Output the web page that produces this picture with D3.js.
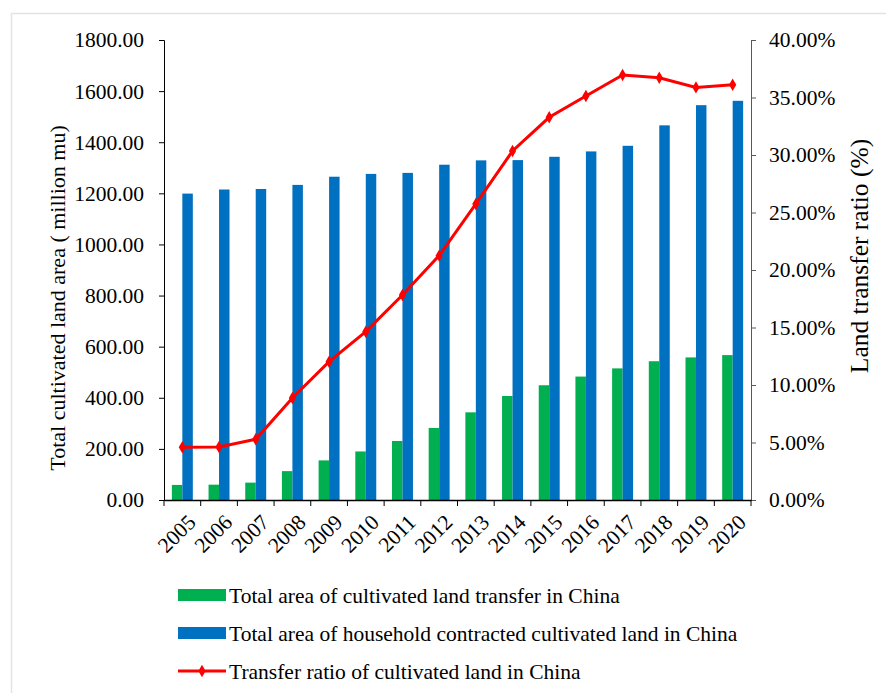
<!DOCTYPE html>
<html>
<head>
<meta charset="utf-8">
<script src="https://cdn.jsdelivr.net/npm/d3@7"></script>
<style>
  body { margin: 0; background: #fff; }
  text { font-family: "Liberation Serif", "Times New Roman", serif; fill: #000; }
</style>
</head>
<body>
<div id="chart"></div>
<script>
// data
let years = ["2005", "2006", "2007", "2008", "2009", "2010", "2011", "2012",
   "2013", "2014", "2015", "2016", "2017", "2018", "2019", "2020"];
let transferArea = [59, 60, 68, 113, 155, 190, 231, 282, 343, 407, 449, 483, 515, 543, 558, 567];
let contractArea = [1199, 1215, 1217, 1233, 1265, 1276, 1280, 1312, 1329, 1330, 1343, 1364, 1386, 1466, 1545, 1562];
let transferRatio = [4.58, 4.61, 5.28, 8.87, 12.03, 14.64, 17.83, 21.25, 25.74, 30.35, 33.28, 35.13, 36.96, 36.72, 35.88, 36.11];
let leftTicks = [0, 200, 400, 600, 800, 1000, 1200, 1400, 1600, 1800];
let rightTicks = [0, 5, 10, 15, 20, 25, 30, 35, 40];

let seriesNames = [
   "Total area of cultivated land transfer in China",
   "Total area of household contracted cultivated land in China",
   "Transfer ratio of cultivated land in China"
];
let colors = {green: "#00B050", blue: "#0070C0", red: "#FF0000"};

let W = 886, H = 693;
let margin = {top: 40, right: 135, bottom: 193, left: 164},
   width = W - margin.left - margin.right,
   height = H - margin.top - margin.bottom;
let fs = "21.5px";

let svg = d3.select("#chart")
   .append("svg")
   .attr("width", W)
   .attr("height", H);

// light frame around the chart
svg.append("rect")
   .attr("x", 11.5).attr("y", 13.5)
   .attr("width", W).attr("height", H)
   .attr("fill", "none")
   .attr("stroke", "#e3e3e3")
   .attr("stroke-width", 1.5);

let g = svg.append("g")
   .attr("transform", "translate(" + margin.left + "," + margin.top + ")");

let x = d3.scaleBand().domain(years).range([0, width]);
let xSub = d3.scaleBand().domain(["transfer", "contract"])
   .range([0, x.bandwidth()]).paddingOuter(0.75);
let yL = d3.scaleLinear().domain([0, 1800]).range([height, 0]);
let yR = d3.scaleLinear().domain([0, 40]).range([height, 0]);

// bars
g.selectAll(".bar-t")
   .data(years)
   .enter().append("rect")
   .attr("x", d => x(d) + xSub("transfer"))
   .attr("y", (d, i) => yL(transferArea[i]))
   .attr("width", xSub.bandwidth())
   .attr("height", (d, i) => height - yL(transferArea[i]))
   .attr("fill", colors.green);

g.selectAll(".bar-c")
   .data(years)
   .enter().append("rect")
   .attr("x", d => x(d) + xSub("contract"))
   .attr("y", (d, i) => yL(contractArea[i]))
   .attr("width", xSub.bandwidth())
   .attr("height", (d, i) => height - yL(contractArea[i]))
   .attr("fill", colors.blue);

// axes
let leftAxis = g.append("g")
   .call(d3.axisLeft(yL).tickValues(leftTicks).tickSize(5).tickPadding(15)
      .tickFormat(d3.format(".2f")));
leftAxis.selectAll("text").style("font-size", fs);

let rightAxis = g.append("g")
   .attr("transform", "translate(" + width + ",0)")
   .call(d3.axisRight(yR).tickValues(rightTicks).tickSize(5).tickPadding(13)
      .tickFormat(d => d.toFixed(2) + "%"));
rightAxis.selectAll("text").style("font-size", fs);
rightAxis.selectAll("line, path").attr("stroke", "#595959");

let bottomAxis = g.append("g")
   .attr("transform", "translate(0," + height + ")")
   .call(d3.axisBottom(x).tickSize(0).tickFormat(""));
bottomAxis.select(".domain").attr("stroke-width", 1.5);

// category boundary ticks
g.selectAll(".xtick")
   .data(years.concat(["end"]))
   .enter().append("line")
   .attr("x1", (d, i) => i * x.step())
   .attr("x2", (d, i) => i * x.step())
   .attr("y1", height)
   .attr("y2", height + 6)
   .attr("stroke", "#000");

g.selectAll(".xlabel")
   .data(years)
   .enter().append("text")
   .attr("transform", d => "translate(" + (x(d) + x.bandwidth() / 2 + 4) + "," + (height + 13) + ") rotate(-45)")
   .attr("text-anchor", "end")
   .attr("dy", "0.7em")
   .style("font-size", fs)
   .text(d => d);

// ratio line
let line = d3.line()
   .x((d, i) => x(years[i]) + x.bandwidth() / 2)
   .y(d => yR(d));

g.append("path")
   .datum(transferRatio)
   .attr("d", line)
   .attr("fill", "none")
   .attr("stroke", colors.red)
   .attr("stroke-width", 3);

let diamond = d3.symbol().type(d3.symbolDiamond).size(45);
g.selectAll(".pt")
   .data(transferRatio)
   .enter().append("path")
   .attr("d", diamond)
   .attr("transform", (d, i) => "translate(" + (x(years[i]) + x.bandwidth() / 2) + "," + yR(d) + ")")
   .attr("fill", colors.red);

// axis titles
svg.append("text")
   .attr("transform", "translate(65," + 298 + ") rotate(-90)")
   .attr("text-anchor", "middle")
   .style("font-size", "22px")
   .text("Total cultivated land area ( million mu)");

svg.append("text")
   .attr("transform", "translate(868," + 256 + ") rotate(-90)")
   .attr("text-anchor", "middle")
   .style("font-size", "25.5px")
   .text("Land transfer ratio (%)");

// legend
let legend = svg.append("g").attr("transform", "translate(178,595)");
let rowGap = 38;
[colors.green, colors.blue].forEach((c, i) => {
   legend.append("rect")
      .attr("x", 0).attr("y", i * rowGap - 6)
      .attr("width", 48).attr("height", 12)
      .attr("fill", c);
});
legend.append("line")
   .attr("x1", 0).attr("x2", 48)
   .attr("y1", 2 * rowGap).attr("y2", 2 * rowGap)
   .attr("stroke", colors.red).attr("stroke-width", 3);
legend.append("path")
   .attr("d", diamond)
   .attr("transform", "translate(24," + (2 * rowGap) + ")")
   .attr("fill", colors.red);
seriesNames.forEach((s, i) => {
   legend.append("text")
      .attr("x", 51).attr("y", i * rowGap)
      .attr("dy", "0.35em")
      .style("font-size", fs)
      .text(s);
});
</script>
</body>
</html>
